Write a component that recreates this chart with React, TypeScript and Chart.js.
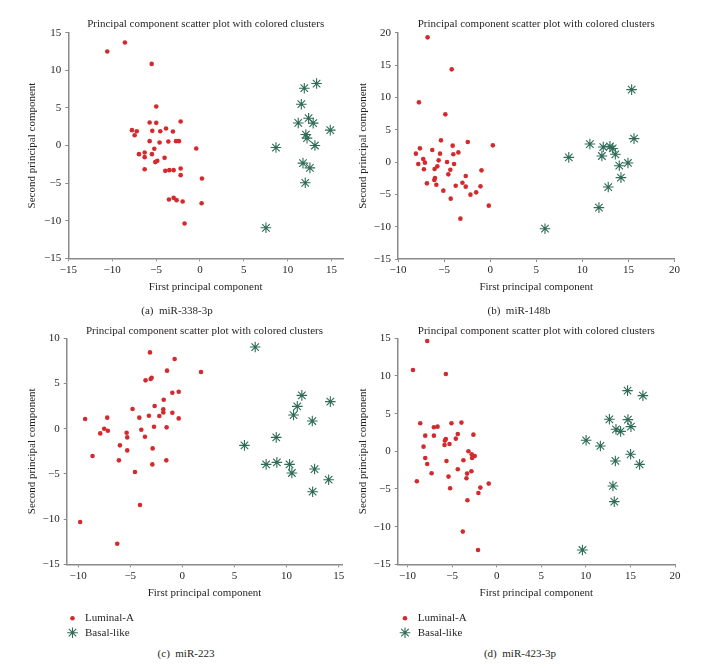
import React, { useEffect, useRef } from 'react';
import { Chart, registerables } from 'chart.js';

Chart.register(...registerables);

// ---------- text ----------
const CHART_TITLE = 'Principal component scatter plot with colored clusters';
const X_TITLE = 'First principal component';
const Y_TITLE = 'Second principal component';
const SERIES_NAMES = ['Luminal-A', 'Basal-like'];
const CAPTIONS = ['(a)  miR-338-3p', '(b)  miR-148b', '(c)  miR-223', '(d)  miR-423-3p'];

// ---------- data ----------
type Pt = [number, number];

const aLuminal: Pt[] = [
  [-10.56, 12.5], [-8.55, 13.7], [-5.5, 10.85], [-4.98, 5.18], [-5.73, 3.06], [-4.98, 3.01],
  [-2.2, 3.19], [-7.75, 2.04], [-7.2, 1.9], [-7.44, 1.37], [-5.43, 1.95], [-3.87, 2.26],
  [-4.52, 1.9], [-3.08, 1.86], [-5.73, 0.58], [-4.6, 0.4], [-3.6, 0.53], [-2.73, 0.58],
  [-2.39, 0.58], [-0.42, -0.4], [-6.95, -1.15], [-6.3, -0.93], [-6.3, -1.55], [-5.47, -1.15],
  [-5.2, -0.44], [-4.03, -1.64], [-5.09, -2.21], [-4.86, -2.04], [-6.3, -3.15], [-3.95, -3.37],
  [-3.49, -3.28], [-3.0, -3.28], [-2.2, -3.06], [-2.2, -3.94], [0.23, -4.39], [-3.53, -7.18],
  [-3.0, -6.96], [-2.66, -7.27], [-1.97, -7.44], [0.19, -7.67], [-1.75, -10.37],
];
const aBasal: Pt[] = [
  [11.89, 7.62], [13.29, 8.24], [11.55, 5.49], [11.2, 3.0], [12.38, 3.63], [12.9, 2.97],
  [14.85, 2.04], [12.07, 1.46], [12.2, 0.98], [13.1, 0.0], [8.66, -0.27], [11.74, -2.35],
  [12.53, -2.97], [12.0, -4.96], [7.52, -10.94],
];

const bLuminal: Pt[] = [
  [-6.79, 19.28], [-4.17, 14.33], [-7.73, 9.23], [-4.86, 7.37], [-5.34, 3.35], [-2.43, 3.09],
  [0.29, 2.58], [-4.07, 2.53], [-7.62, 2.11], [-6.28, 1.86], [-3.45, 1.49], [-8.06, 1.29],
  [-5.44, 1.29], [-4.0, 1.19], [-7.26, 0.46], [-7.8, -0.31], [-7.08, -0.1], [-5.59, 0.26],
  [-4.68, 0.0], [-3.92, -0.31], [-7.19, -1.13], [-6.03, -1.08], [-5.73, -0.67], [-4.32, -1.19],
  [-4.54, -1.91], [-0.94, -1.29], [-2.65, -2.16], [-5.99, -2.47], [-6.06, -2.78], [-6.86, -3.3],
  [-5.84, -3.51], [-3.01, -3.2], [-3.74, -3.66], [-2.65, -3.81], [-1.05, -3.76], [-5.08, -4.43],
  [-1.52, -4.69], [-2.14, -5.05], [-4.28, -5.67], [-0.15, -6.75], [-3.23, -8.76],
];
const bBasal: Pt[] = [
  [15.35, 11.19], [15.61, 3.61], [10.82, 2.78], [12.27, 2.32], [13.0, 2.42], [13.3, 2.1],
  [12.12, 0.93], [13.58, 1.19], [14.01, -0.57], [14.95, -0.15], [14.19, -2.42], [12.81, -3.87],
  [11.8, -7.06], [8.53, 0.72], [5.95, -10.31],
];

const cLuminal: Pt[] = [
  [-3.11, 8.44], [-0.74, 7.71], [-1.47, 6.42], [1.79, 6.27], [-3.53, 5.35], [-2.95, 5.64],
  [-3.04, 5.5], [-0.35, 4.09], [-0.96, 3.98], [-1.79, 3.21], [-2.66, 2.51], [-4.78, 2.18],
  [-1.83, 2.14], [-1.83, 1.8], [-9.33, 1.07], [-7.21, 1.22], [-4.13, 1.22], [-3.21, 1.44],
  [-2.21, 1.4], [-0.96, 1.77], [-0.35, 1.14], [-7.5, 0.0], [-7.15, -0.22], [-7.88, -0.52],
  [-5.35, -0.44], [-5.29, -0.96], [-3.94, -0.11], [-2.72, 0.22], [-1.51, 0.15], [-3.59, -0.89],
  [-5.99, -1.84], [-8.62, -3.02], [-5.29, -2.4], [-2.85, -2.18], [-6.09, -3.5], [-1.54, -3.5],
  [-2.88, -3.95], [-4.55, -4.79], [-4.07, -8.44], [-9.81, -10.32], [-6.25, -12.72],
];
const cBasal: Pt[] = [
  [6.99, 9.03], [11.47, 3.69], [14.2, 2.99], [11.03, 2.47], [10.67, 1.51], [12.47, 0.85],
  [9.01, -0.96], [5.96, -1.84], [8.04, -3.95], [9.07, -3.72], [10.29, -3.95], [10.51, -4.9],
  [12.69, -4.46], [14.04, -5.64], [12.5, -6.97],
];

const dLuminal: Pt[] = [
  [-7.79, 14.65], [-9.39, 10.8], [-5.7, 10.27], [-8.57, 3.72], [-7.04, 3.19], [-6.63, 3.27],
  [-5.07, 3.72], [-3.95, 3.81], [-8.01, 2.08], [-7.04, 2.08], [-4.36, 2.3], [-2.61, 2.21],
  [-4.58, 1.68], [-5.7, 1.64], [-5.81, 1.42], [-5.29, 0.97], [-5.85, 0.84], [-8.2, 0.62],
  [-3.17, 0.0], [-2.8, -0.4], [-2.68, -0.62], [-2.46, -0.62], [-2.76, -0.88], [-8.01, -0.88],
  [-7.79, -1.68], [-5.63, -1.28], [-3.73, -1.19], [-7.3, -2.92], [-4.36, -2.39], [-2.83, -2.65],
  [-3.32, -2.96], [-3.39, -3.58], [-5.4, -3.36], [-8.95, -3.98], [-5.22, -4.91], [-0.89, -4.29],
  [-1.83, -4.82], [-2.05, -5.53], [-3.28, -6.5], [-3.8, -10.66], [-2.09, -13.1],
];
const dBasal: Pt[] = [
  [14.68, 8.05], [16.4, 7.39], [12.64, 4.25], [14.72, 4.2], [13.38, 2.92], [13.9, 2.65],
  [15.06, 3.27], [10.03, 1.46], [11.63, 0.71], [15.02, -0.4], [13.31, -1.28], [16.03, -1.73],
  [13.04, -4.6], [13.19, -6.68], [9.62, -13.1],
];

// axis ranges: [xMin, xMax, yMin, yMax]
const aRange = [-15, 16.3, -15, 15];
const bRange = [-10, 20, -15, 20];
const cRange = [-11.1, 15.35, -15, 10];
const dRange = [-11.1, 20, -15, 15];

// ---------- style ----------
const FONT = '"Liberation Serif", "Times New Roman", serif';
const FS = 11;
const LH = FS * 1.2;
const TEXT = '#231f20';
const AXIS = '#8a8a8a';
const RED = '#d42a2e';
const GREEN = '#2f6c56';

interface Layout {
  L: number; T: number; W: number; H: number;
  l: number; r: number; t: number; b: number;
  titleY: number; yTitleX: number; xTitleY: number; scaleBottom: number;
  legend?: { mx: number; tx: number; y1: number; y2: number };
  cap: { x: number; y: number };
}

const layouts: Layout[] = [
  { L: 0, T: 0, W: 356, H: 300, l: 68.3, r: 343, t: 32.7, b: 258.3, titleY: 24.3, yTitleX: 32, xTitleY: 287.3, scaleBottom: 300, cap: { x: 177, y: 310 } },
  { L: 356, T: 0, W: 356, H: 300, l: 398, r: 674.5, t: 32.7, b: 259, titleY: 24.3, yTitleX: 363.3, xTitleY: 287.3, scaleBottom: 300, cap: { x: 519, y: 310 } },
  { L: 0, T: 315, W: 356, H: 325, l: 66.7, r: 342.3, t: 338.3, b: 564.3, titleY: 330.7, yTitleX: 32.3, xTitleY: 593.3, scaleBottom: 600, legend: { mx: 72.5, tx: 85, y1: 618.3, y2: 632.7 }, cap: { x: 186, y: 653 } },
  { L: 356, T: 315, W: 356, H: 325, l: 397.7, r: 675, t: 338.3, b: 564.3, titleY: 330.7, yTitleX: 363.3, xTitleY: 593.3, scaleBottom: 600, legend: { mx: 405, tx: 417.7, y1: 618.3, y2: 632.7 }, cap: { x: 520, y: 653 } },
];

const panels = [
  { lum: aLuminal, bas: aBasal, range: aRange },
  { lum: bLuminal, bas: bBasal, range: bRange },
  { lum: cLuminal, bas: cBasal, range: cRange },
  { lum: dLuminal, bas: dBasal, range: dRange },
];

const fmt = (v: number | string) => {
  const n = Number(v);
  return n < 0 ? '\u2212' + Math.abs(n) : String(n);
};

function drawStar(ctx: CanvasRenderingContext2D, x: number, y: number, r: number) {
  ctx.beginPath();
  ctx.moveTo(x - r, y); ctx.lineTo(x + r, y);
  ctx.moveTo(x, y - r); ctx.lineTo(x, y + r);
  const d = r * Math.SQRT1_2;
  ctx.moveTo(x - d, y - d); ctx.lineTo(x + d, y + d);
  ctx.moveTo(x - d, y + d); ctx.lineTo(x + d, y - d);
  ctx.stroke();
}

function makeConfig(idx: number): any {
  const p = panels[idx];
  const g = layouts[idx];
  const font = { family: FONT, size: FS, weight: 'normal' as const, lineHeight: 1.2 };
  const titlePadTop = g.titleY - g.T - LH / 2;
  const titlePadBottom = g.t - g.T - titlePadTop - LH;
  const yWidth = g.l - g.L;
  const xHeight = g.scaleBottom - g.b;
  const padRight = g.L + g.W - g.r;
  const padBottom = g.T + g.H - g.scaleBottom;

  const legendPlugin = {
    id: 'stackedLegend' + idx,
    afterDraw(chart: any) {
      if (!g.legend) return;
      const ctx: CanvasRenderingContext2D = chart.ctx;
      const lg = g.legend;
      ctx.save();
      ctx.font = `${FS}px ${FONT}`;
      ctx.textBaseline = 'middle';
      ctx.textAlign = 'left';
      const ys = [lg.y1 - g.T, lg.y2 - g.T];
      chart.data.datasets.forEach((ds: any, i: number) => {
        const mx = lg.mx - g.L;
        const my = ys[i];
        if (ds.pointStyle === 'circle') {
          ctx.beginPath();
          ctx.fillStyle = ds.pointBackgroundColor;
          ctx.arc(mx, my, ds.pointRadius, 0, Math.PI * 2);
          ctx.fill();
        } else {
          ctx.strokeStyle = ds.pointBorderColor;
          ctx.lineWidth = ds.pointBorderWidth;
          drawStar(ctx, mx, my, ds.pointRadius);
        }
        ctx.fillStyle = TEXT;
        ctx.fillText(ds.label, lg.tx - g.L, my);
      });
      ctx.restore();
    },
  };

  const axisCommon = {
    type: 'linear' as const,
    grid: { display: true, drawOnChartArea: false, drawTicks: true, tickLength: 3, color: AXIS, tickColor: AXIS, lineWidth: 1 },
    border: { display: true, color: AXIS, width: 1.5 },
  };

  return {
    type: 'scatter',
    data: {
      datasets: [
        {
          label: SERIES_NAMES[0],
          data: p.lum.map(([x, y]) => ({ x, y })),
          pointStyle: 'circle',
          pointRadius: 2.3,
          pointBackgroundColor: RED,
          pointBorderColor: RED,
          pointBorderWidth: 0,
          showLine: false,
        },
        {
          label: SERIES_NAMES[1],
          data: p.bas.map(([x, y]) => ({ x, y })),
          pointStyle: 'star',
          pointRadius: 5.3,
          pointBackgroundColor: GREEN,
          pointBorderColor: GREEN,
          pointBorderWidth: 1.1,
          showLine: false,
        },
      ],
    },
    options: {
      responsive: false,
      animation: false,
      devicePixelRatio: 1,
      events: [],
      layout: { padding: { left: 0, top: 0, right: padRight, bottom: padBottom } },
      plugins: {
        legend: { display: false },
        tooltip: { enabled: false },
        title: {
          display: true,
          text: CHART_TITLE,
          fullSize: false,
          color: TEXT,
          font,
          padding: { top: titlePadTop, bottom: titlePadBottom },
        },
      },
      scales: {
        x: {
          ...axisCommon,
          position: 'bottom',
          min: p.range[0],
          max: p.range[1],
          ticks: { stepSize: 5, includeBounds: false, color: TEXT, font, padding: 2, maxRotation: 0, callback: fmt },
          title: { display: true, text: X_TITLE, color: TEXT, font, padding: { top: 0, bottom: g.scaleBottom - g.xTitleY - LH / 2 } },
          afterFit: (s: any) => { s.height = xHeight; },
        },
        y: {
          ...axisCommon,
          position: 'left',
          min: p.range[2],
          max: p.range[3],
          ticks: { stepSize: 5, includeBounds: false, color: TEXT, font, padding: 4, callback: fmt },
          title: { display: true, text: Y_TITLE, color: TEXT, font, padding: { top: g.yTitleX - g.L - LH / 2, bottom: 0 } },
          afterFit: (s: any) => { s.width = yWidth; },
        },
      },
    },
    plugins: [legendPlugin],
  };
}

function Panel({ idx }: { idx: number }) {
  const ref = useRef<HTMLCanvasElement | null>(null);
  const g = layouts[idx];
  useEffect(() => {
    if (!ref.current) return;
    const chart = new Chart(ref.current, makeConfig(idx));
    return () => chart.destroy();
  }, [idx]);
  return (
    <canvas
      ref={ref}
      width={g.W}
      height={g.H}
      style={{ position: 'absolute', left: g.L, top: g.T, width: g.W, height: g.H }}
    />
  );
}

export default function App() {
  return (
    <div style={{ position: 'absolute', left: 0, top: 0, width: 712, height: 668, background: '#ffffff', overflow: 'hidden' }}>
      {layouts.map((_, i) => (
        <Panel key={i} idx={i} />
      ))}
      {layouts.map((g, i) => (
        <div
          key={'cap' + i}
          style={{
            position: 'absolute',
            left: g.cap.x,
            top: g.cap.y,
            transform: 'translate(-50%, -50%)',
            fontFamily: FONT,
            fontSize: FS,
            color: TEXT,
            whiteSpace: 'pre',
            lineHeight: 1,
          }}
        >
          {CAPTIONS[i]}
        </div>
      ))}
    </div>
  );
}
